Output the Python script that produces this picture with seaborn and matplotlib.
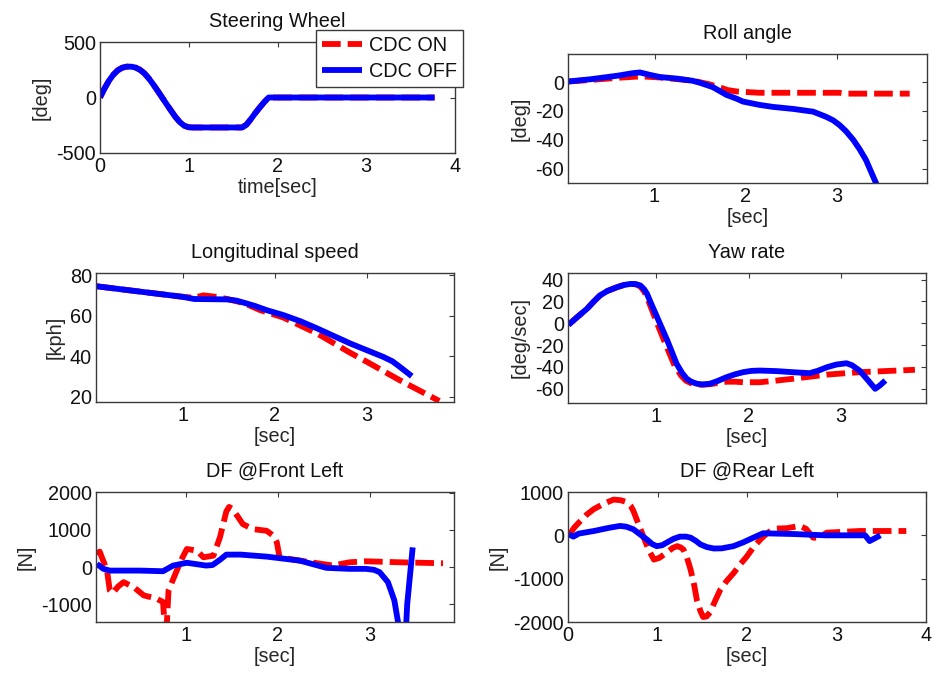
import matplotlib
matplotlib.use("Agg")
import matplotlib.pyplot as plt
import seaborn as sns

# ---- Steering wheel input (identical for both runs) ----
steer_t = [0.0, 0.05, 0.1, 0.15, 0.2, 0.25, 0.3, 0.35, 0.4, 0.45, 0.5, 0.55, 0.6,
           0.65, 0.7, 0.75, 0.8, 0.85, 0.9, 0.95, 1.0, 1.05, 1.6, 1.65, 1.7, 1.75,
           1.8, 1.85, 1.9, 3.77]
steer_deg = [0, 80, 150, 205, 245, 268, 278, 278, 270, 250, 218, 172, 118,
             60, 0, -60, -118, -175, -222, -255, -268, -270, -270, -245, -195, -140,
             -90, -42, 0, 0]

# ---- Roll angle ----
roll_on_t = [0.05, 0.3, 0.6, 0.85, 1.06, 1.42, 1.6, 1.71, 1.8, 1.9, 2.15, 2.6, 3.03, 3.1, 3.8]
roll_on = [0.4, 1.5, 3.0, 4.0, 3.2, 1.0, -1.5, -3.5, -5.5, -6.5, -7.4, -7.4, -7.4, -8.0, -8.0]
roll_off_t = [0.05, 0.3, 0.6, 0.76, 0.84, 0.95, 1.06, 1.25, 1.42, 1.5, 1.64, 1.79, 1.9,
              1.97, 2.15, 2.3, 2.52, 2.74, 2.88, 2.96, 3.03, 3.1, 3.18, 3.25, 3.32,
              3.43, 3.5]
roll_off = [0.4, 2.0, 4.5, 6.2, 6.7, 5.0, 3.5, 2.4, 0.9, -0.5, -3.5, -8.9, -11.5,
            -13.5, -15.8, -17.2, -18.6, -20.5, -24, -26.5, -29.8, -34, -40, -46.5, -54,
            -70, -80]

# ---- Longitudinal speed ----
speed_on_t = [0.05, 0.5, 0.99, 1.12, 1.22, 1.35, 1.48, 1.66, 1.84, 2.09, 2.46, 2.82, 3.0,
              3.36, 3.79]
speed_on = [74.5, 72.0, 69.3, 68.8, 70.0, 69.3, 68.2, 66.2, 62.7, 59.1, 51.2, 41.7, 37.3,
            28.2, 18.0]
speed_off_t = [0.05, 0.5, 0.99, 1.12, 1.48, 1.58, 1.66, 1.78, 1.91, 2.09, 2.28, 2.46, 2.64,
               2.82, 3.0, 3.18, 3.28, 3.36, 3.49]
speed_off = [74.5, 72.0, 69.3, 68.2, 68.0, 67.4, 66.4, 64.8, 62.7, 60.3, 57.2, 53.7, 50.0,
             46.3, 43.0, 39.7, 37.5, 34.8, 30.2]

# ---- Yaw rate ----
yaw_on_t = [0.05, 0.15, 0.25, 0.32, 0.39, 0.47, 0.575, 0.65, 0.72, 0.78, 0.83, 0.87, 0.9,
            0.95, 1.0, 1.1, 1.2, 1.27, 1.32, 1.38, 1.44, 1.5, 1.58, 1.68, 1.76, 1.85,
            1.94, 2.12, 2.3, 2.48, 2.85, 3.2, 3.8]
yaw_on = [-1.4, 6, 13.2, 19.5, 25.4, 29.5, 33, 35, 36, 35.6, 33.5, 29, 24,
          13, 2, -19, -39, -48, -52.5, -55, -56, -56.3, -55.8, -54.5, -53.5, -53.5,
          -54, -54, -52.5, -50.8, -47, -44.8, -42.6]
yaw_off_t = [0.05, 0.15, 0.25, 0.32, 0.39, 0.47, 0.575, 0.65, 0.72, 0.78, 0.83, 0.87, 0.9,
             0.95, 1.01, 1.12, 1.22, 1.28, 1.33, 1.38, 1.44, 1.5, 1.58, 1.66, 1.76, 1.85,
             1.94, 2.03, 2.12, 2.3, 2.48, 2.66, 2.75, 2.85, 2.95, 3.06, 3.12, 3.2, 3.28,
             3.37, 3.42, 3.48]
yaw_off = [-1.4, 6, 13.2, 19.5, 25.4, 29.5, 33, 35, 36, 35.8, 34.5, 31, 27,
           17, 5.5, -15.8, -37, -45.5, -50.8, -53.5, -55.4, -56, -55.4, -53, -49.4, -46.8,
           -44.8, -43.6, -43.3, -43.8, -44.8, -45.7, -43.5, -40.2, -37.8, -36.6, -38.5, -43.3,
           -51, -60, -57, -52.4]

# ---- Damper force, front left ----
fl_on_t = [0.03, 0.06, 0.14, 0.17, 0.2, 0.26, 0.32, 0.43, 0.54, 0.68, 0.75, 0.77, 0.79,
           0.81, 0.9, 0.96, 1.01, 1.12, 1.19, 1.3, 1.37, 1.44, 1.47, 1.51, 1.62, 1.73,
           1.88, 1.95, 1.99, 2.02, 2.24, 2.6, 2.78, 2.96, 3.33, 3.8]
fl_on = [357, 420, -88, -621, -700, -520, -400, -533, -755, -844, -933, -1600, -1600,
         -621, -88, 250, 490, 445, 267, 312, 800, 1500, 1620, 1557, 1157, 1024,
         978, 850, 667, 267, 178, 45, 133, 160, 133, 107]
fl_off_t = [0.03, 0.1, 0.17, 0.5, 0.75, 0.86, 1.01, 1.22, 1.29, 1.37, 1.44, 1.59, 1.88,
            2.24, 2.53, 2.78, 2.96, 3.05, 3.11, 3.2, 3.27, 3.31, 3.34, 3.38, 3.41, 3.47]
fl_off = [90, -43, -90, -90, -107, 45, 120, 45, 60, 200, 338, 340, 285,
          178, -16, -43, -43, -70, -133, -400, -888, -1467, -2500, -2500, -1000, 533]

# ---- Damper force, rear left ----
rl_on_t = [0.01, 0.07, 0.14, 0.21, 0.29, 0.4, 0.51, 0.59, 0.66, 0.7, 0.73, 0.78, 0.84,
           0.9, 0.96, 1.02, 1.1, 1.17, 1.22, 1.26, 1.29, 1.33, 1.37, 1.41, 1.44, 1.48,
           1.51, 1.55, 1.59, 1.64, 1.7, 1.77, 1.85, 1.92, 2.0, 2.07, 2.15, 2.22, 2.3,
           2.44, 2.59, 2.66, 2.74, 2.81, 2.89, 3.26, 3.78]
rl_on = [0, 180, 334, 480, 607, 730, 825, 810, 763, 680, 568, 300, -16,
         -330, -560, -520, -405, -290, -249, -280, -327, -520, -794, -1150, -1495, -1750,
         -1885, -1870, -1768, -1530, -1261, -1060, -872, -680, -483, -280, -93, 40, 156,
         163, 218, 150, -54, -54, 62, 100, 100]
rl_off_t = [0.01, 0.06, 0.12, 0.29, 0.45, 0.58, 0.65, 0.73, 0.8, 0.88, 0.94, 0.99, 1.05,
            1.1, 1.18, 1.25, 1.32, 1.37, 1.43, 1.48, 1.55, 1.63, 1.72, 1.85, 1.96, 2.07,
            2.18, 2.52, 2.88, 3.32, 3.37, 3.49]
rl_off = [23, -30, 40, 100, 170, 217, 200, 140, 30, -93, -200, -249, -230,
          -171, -80, -30, -30, -54, -130, -210, -270, -304, -300, -249, -160, -54,
          47, 30, 0, 0, -132, 0]

series_labels = ["CDC ON", "CDC OFF"]

sns.set_style("white")
plt.rcParams["font.family"] = ["Liberation Sans", "DejaVu Sans"]
plt.rcParams["font.size"] = 14.3
plt.rcParams["axes.unicode_minus"] = False
plt.rcParams["axes.edgecolor"] = "#3a3a3a"
plt.rcParams["axes.linewidth"] = 1.0
plt.rcParams["xtick.direction"] = "in"
plt.rcParams["ytick.direction"] = "in"
plt.rcParams["xtick.top"] = True
plt.rcParams["ytick.right"] = True
plt.rcParams["xtick.major.size"] = 3.5
plt.rcParams["ytick.major.size"] = 3.5
plt.rcParams["xtick.major.pad"] = 3
plt.rcParams["ytick.major.pad"] = 3
plt.rcParams["xtick.color"] = "#3a3a3a"
plt.rcParams["ytick.color"] = "#3a3a3a"
plt.rcParams["xtick.labelcolor"] = "#111111"
plt.rcParams["ytick.labelcolor"] = "#111111"
plt.rcParams["text.color"] = "#111111"

W, H = 933, 677
fig = plt.figure(figsize=(W / 100, H / 100), dpi=100)


def box(left, right, top, bottom):
    return [left / W, 1 - bottom / H, (right - left) / W, (bottom - top) / H]


RED = "#ff0000"
BLUE = "#0000ff"
LW = 4.2
DASH = (0, (3.2, 1.2))


def draw(ax, t_on, y_on, t_off, y_off):
    sns.lineplot(x=t_on, y=y_on, ax=ax, color=RED, linewidth=LW, linestyle=DASH,
                 sort=False, estimator=None, legend=False, label=series_labels[0])
    sns.lineplot(x=t_off, y=y_off, ax=ax, color=BLUE, linewidth=LW,
                 sort=False, estimator=None, legend=False, label=series_labels[1])
    for ln in ax.get_lines():
        ln.set_solid_capstyle("butt")
        ln.set_dash_capstyle("butt")
        ln.set_solid_joinstyle("round")
        ln.set_dash_joinstyle("round")


panels = [
    dict(rect=box(100, 455, 42, 153), data=(steer_t, steer_deg, steer_t, steer_deg),
         title="Steering Wheel", xlabel="time[sec]", ylabel="[deg]",
         xlim=(0, 4), ylim=(-500, 500), xticks=[0, 1, 2, 3, 4], yticks=[-500, 0, 500]),
    dict(rect=box(568, 927, 54, 183), data=(roll_on_t, roll_on, roll_off_t, roll_off),
         title="Roll angle", xlabel="[sec]", ylabel="[deg]",
         xlim=(0.05, 3.99), ylim=(-70, 19.5), xticks=[1, 2, 3], yticks=[-60, -40, -20, 0]),
    dict(rect=box(96, 454, 273, 402), data=(speed_on_t, speed_on, speed_off_t, speed_off),
         title="Longitudinal speed", xlabel="[sec]", ylabel="[kph]",
         xlim=(0.05, 3.95), ylim=(17.5, 81), xticks=[1, 2, 3], yticks=[20, 40, 60, 80]),
    dict(rect=box(568, 926, 273, 403), data=(yaw_on_t, yaw_on, yaw_off_t, yaw_off),
         title="Yaw rate", xlabel="[sec]", ylabel="[deg/sec]",
         xlim=(0.045, 3.92), ylim=(-73, 46), xticks=[1, 2, 3],
         yticks=[-60, -40, -20, 0, 20, 40]),
    dict(rect=box(96, 454, 492, 622), data=(fl_on_t, fl_on, fl_off_t, fl_off),
         title="DF @Front Left", xlabel="[sec]", ylabel="[N]",
         xlim=(0.02, 3.92), ylim=(-1470, 2020), xticks=[1, 2, 3],
         yticks=[-1000, 0, 1000, 2000]),
    dict(rect=box(568, 926, 492, 622), data=(rl_on_t, rl_on, rl_off_t, rl_off),
         title="DF @Rear Left", xlabel="[sec]", ylabel="[N]",
         xlim=(0, 4), ylim=(-2000, 1000), xticks=[0, 1, 2, 3, 4],
         yticks=[-2000, -1000, 0, 1000]),
]

axes = []
for p in panels:
    ax = fig.add_axes(p["rect"])
    draw(ax, *p["data"])
    ax.set_xlim(*p["xlim"])
    ax.set_ylim(*p["ylim"])
    ax.set_xticks(p["xticks"])
    ax.set_yticks(p["yticks"])
    ax.set_title(p["title"], fontsize=14.3, pad=11)
    ax.set_xlabel(p["xlabel"], fontsize=14.3, labelpad=1)
    ax.set_ylabel(p["ylabel"], fontsize=14.3, labelpad=4)
    ax.tick_params(labelsize=14.3)
    for s in ax.spines.values():
        s.set_visible(True)
    axes.append(ax)

handles, labels = axes[0].get_legend_handles_labels()
leg = axes[0].legend(handles, labels, loc="upper right",
                     bbox_to_anchor=(463 / W, 1 - 30 / H),
                     bbox_transform=fig.transFigure, borderaxespad=0,
                     fancybox=False, framealpha=1, edgecolor="#3a3a3a",
                     fontsize=14.3, handlelength=2.0, handletextpad=0.35,
                     labelspacing=0.35, borderpad=0.3)
leg.get_frame().set_linewidth(1.0)
leg.set_zorder(10)

fig.savefig("out.png", dpi=100)
